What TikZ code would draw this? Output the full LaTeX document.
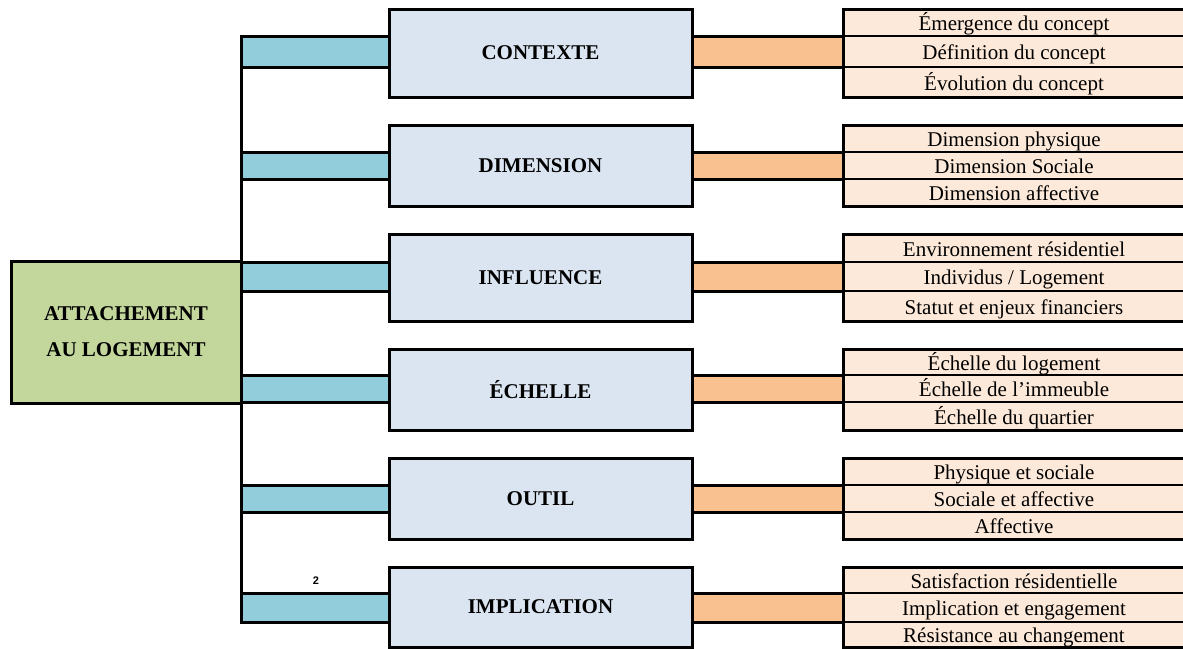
\documentclass[tikz,border=0pt]{standalone}
\usepackage{fontspec}
\setmainfont{Liberation Serif}
\newfontfamily\notefont{Liberation Sans}
\definecolor{rootgreen}{HTML}{C3D69B}
\definecolor{barblue}{HTML}{92CDDC}
\definecolor{catfill}{HTML}{DBE5F1}
\definecolor{barorange}{HTML}{F9C090}
\definecolor{itemfill}{HTML}{FDE9D9}
\begin{document}
\begin{tikzpicture}[x=1pt,y=-1pt,
  every node/.style={inner sep=0pt,outer sep=0pt},
  thick frame/.style={draw=black,line width=3pt},
  rootbox/.style={thick frame,fill=rootgreen,rectangle,align=center,
    font=\fontsize{21}{36}\selectfont\bfseries},
  catbox/.style={thick frame,fill=catfill,rectangle,
    font=\fontsize{21}{25}\selectfont\bfseries},
  leftbar/.style={thick frame,fill=barblue,rectangle},
  rightbar/.style={thick frame,fill=barorange,rectangle},
  itembox/.style={draw=black,line width=1.4pt,fill=itemfill,rectangle,
    minimum width=342,text height=16pt,text depth=0pt,
    font=\fontsize{21}{25}\selectfont},
  notestyle/.style={font=\notefont\bfseries\fontsize{11}{13}\selectfont}]
\useasboundingbox (0,0) rectangle (1183,648);
\fill[white] (0,0) rectangle (1183,648);

% one branch per category: name / label / top / bar top / bar bottom / bottom / three items
\foreach \n/\lab/\t/\bt/\bb/\b/\ra/\rb/\rc in {
  1/CONTEXTE/9/36/67/97/Émergence du concept/Définition du concept/Évolution du concept,
  2/DIMENSION/125/152/179/206/Dimension physique/Dimension Sociale/Dimension affective,
  3/INFLUENCE/234/262/291/321/Environnement résidentiel/{Individus / Logement}/Statut et enjeux financiers,
  4/ÉCHELLE/349/375/402/430/Échelle du logement/Échelle de l’immeuble/Échelle du quartier,
  5/OUTIL/458/485/512/539/Physique et sociale/Sociale et affective/Affective,
  6/IMPLICATION/567/593/622/647/Satisfaction résidentielle/Implication et engagement/Résistance au changement}{
  % connecting bars
  \node[leftbar,minimum width=148,minimum height={\bb-\bt}] (lb\n) at (315,{(\bt+\bb)/2}) {};
  \node[rightbar,minimum width=151,minimum height={\bb-\bt}] (rb\n) at (767.5,{(\bt+\bb)/2}) {};
  % category box
  \node[catbox,minimum width=303,minimum height={\b-\t}] (cat\n) at (540.5,{(\t+\b)/2}) {\lab};
  % item rows
  \node[itembox,minimum height={\bt-\t}] (ia\n) at (1014,{(\t+\bt)/2}) {\ra};
  \node[itembox,minimum height={\bb-\bt}] (ib\n) at (1014,{(\bt+\bb)/2}) {\rb};
  \node[itembox,minimum height={\b-\bb}] (ic\n) at (1014,{(\bb+\b)/2}) {\rc};
  \draw[line width=3pt] (ia\n.north east) -- (ia\n.north west) -- (ic\n.south west) -- (ic\n.south east);
}

% trunk joining all branches
\draw[line width=3pt] (lb1.north west) -- (lb6.south west);

% root box
\node[rootbox,minimum width=230,minimum height=142] (root) at (126,332) {ATTACHEMENT\\AU LOGEMENT};

\node[notestyle] (note) at (316,581) {2};
\end{tikzpicture}
\end{document}
